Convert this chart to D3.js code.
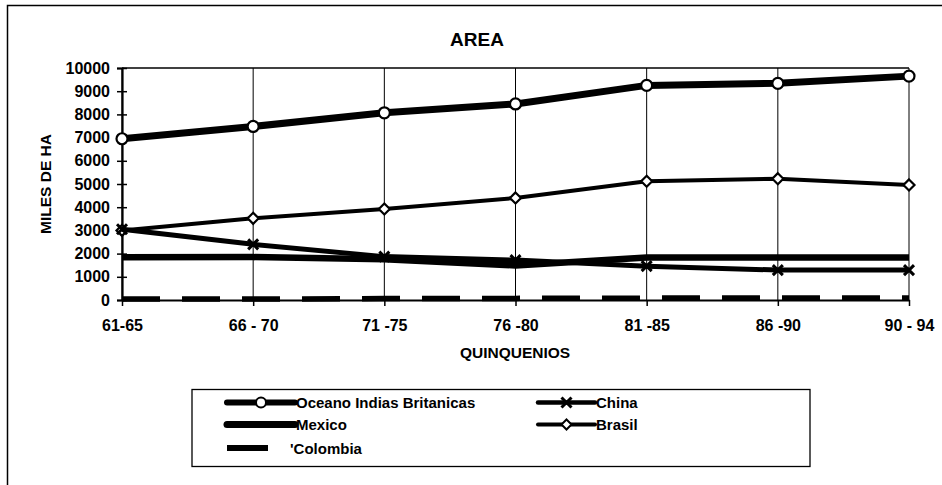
<!DOCTYPE html>
<html>
<head>
<meta charset="utf-8">
<script src="https://cdn.jsdelivr.net/npm/d3@7"></script>
<style>
  html, body { margin: 0; padding: 0; background: #fff; }
  svg { display: block; }
  text { font-family: "Liberation Sans", Arial, sans-serif; font-weight: bold; fill: #000; }
</style>
</head>
<body>
<svg id="chart" width="942" height="485"></svg>
<script>
// ---- data ----
const categories = ["61-65", "66 - 70", "71 -75", "76 -80", "81 -85", "86 -90", "90 - 94"];
const oceano   = [6950, 7480, 8070, 8450, 9250, 9340, 9650];
const china    = [3050, 2400, 1870, 1720, 1460, 1290, 1290];
const mexico   = [1840, 1850, 1760, 1490, 1830, 1830, 1830];
const brasil   = [3000, 3520, 3920, 4400, 5120, 5230, 4960];
const colombia = [40, 40, 60, 70, 80, 90, 90];
const yTicks   = [0, 1000, 2000, 3000, 4000, 5000, 6000, 7000, 8000, 9000, 10000];

const svg = d3.select("#chart");

// outer frame (left and top edges visible)
svg.append("path").attr("d", "M7.5,485 V5.5 H942")
  .attr("fill", "none").attr("stroke", "#000").attr("stroke-width", 1.5);

const x = d3.scalePoint().domain(categories).range([122, 909]).padding(0);
const y = d3.scaleLinear().domain([0, 10000]).range([300, 68]);

const g = svg.append("g");

// vertical gridlines
g.selectAll("line.grid").data(categories).enter().append("line")
  .attr("x1", d => x(d)).attr("x2", d => x(d))
  .attr("y1", y(10000)).attr("y2", y(0))
  .attr("stroke", "#000").attr("stroke-width", 1);

// top border of plot
g.append("line").attr("x1", x(categories[0])).attr("x2", x(categories[6]))
  .attr("y1", y(10000)).attr("y2", y(10000))
  .attr("stroke", "#000").attr("stroke-width", 1.5);

// y axis
const yAxis = d3.axisLeft(y).tickValues(yTicks).tickSize(5).tickPadding(8).tickFormat(d3.format("d"));
const ya = g.append("g").attr("transform", `translate(${x(categories[0])},0)`).call(yAxis);
ya.select(".domain").attr("stroke-width", 2.2);
ya.selectAll(".tick line").attr("x2", -5).attr("x1", 5).attr("stroke-width", 1.5);
ya.selectAll(".tick text").style("font-size", "16px").style("font-family", "Liberation Sans, Arial, sans-serif").style("font-weight", "bold").attr("x", -12);

// x axis
const xAxis = d3.axisBottom(x).tickSize(6).tickPadding(14).tickSizeOuter(0);
const xa = g.append("g").attr("transform", `translate(0,${y(0)})`).call(xAxis);
xa.select(".domain").attr("stroke-width", 2.2);
xa.selectAll(".tick line").attr("stroke-width", 1.5);
xa.selectAll(".tick text").style("font-size", "16px").style("font-family", "Liberation Sans, Arial, sans-serif").style("font-weight", "bold");

// titles
svg.append("text").attr("x", 477).attr("y", 46).attr("text-anchor", "middle")
  .style("font-size", "19px").text("AREA");
svg.append("text").attr("x", 515).attr("y", 358).attr("text-anchor", "middle")
  .style("font-size", "15.5px").text("QUINQUENIOS");
svg.append("text").attr("transform", "translate(51,184) rotate(-90)").attr("text-anchor", "middle")
  .style("font-size", "15.5px").text("MILES DE HA");

const line = d3.line().x((d, i) => x(categories[i])).y(d => y(d));

// Colombia (dashed)
g.append("path").datum(colombia).attr("d", line)
  .attr("fill", "none").attr("stroke", "#000").attr("stroke-width", 5.5)
  .attr("stroke-dasharray", "38,22");

// Mexico
g.append("path").datum(mexico).attr("d", line)
  .attr("fill", "none").attr("stroke", "#000").attr("stroke-width", 6.5).attr("stroke-linejoin", "round");

// Brasil
g.append("path").datum(brasil).attr("d", line)
  .attr("fill", "none").attr("stroke", "#000").attr("stroke-width", 4).attr("stroke-linejoin", "round");
g.selectAll("path.dia").data(brasil).enter().append("path")
  .attr("transform", (d, i) => `translate(${x(categories[i])},${y(d)})`)
  .attr("d", "M0,-5.5 L5.5,0 L0,5.5 L-5.5,0 Z")
  .attr("fill", "#fff").attr("stroke", "#000").attr("stroke-width", 2.2);

// China
g.append("path").datum(china).attr("d", line)
  .attr("fill", "none").attr("stroke", "#000").attr("stroke-width", 5).attr("stroke-linejoin", "round");
g.selectAll("path.cx").data(china).enter().append("path")
  .attr("transform", (d, i) => `translate(${x(categories[i])},${y(d)})`)
  .attr("d", "M-5,-5 L5,5 M-5,5 L5,-5")
  .attr("fill", "none").attr("stroke", "#000").attr("stroke-width", 3);

// Oceano Indias Britanicas
g.append("path").datum(oceano).attr("d", line)
  .attr("fill", "none").attr("stroke", "#000").attr("stroke-width", 7).attr("stroke-linejoin", "round");
g.selectAll("circle.oc").data(oceano).enter().append("circle")
  .attr("cx", (d, i) => x(categories[i])).attr("cy", d => y(d)).attr("r", 5.5)
  .attr("fill", "#fff").attr("stroke", "#000").attr("stroke-width", 2.2);

// ---- legend ----
const lg = svg.append("g");
lg.append("rect").attr("x", 192).attr("y", 389.5).attr("width", 618).attr("height", 77)
  .attr("fill", "none").attr("stroke", "#000").attr("stroke-width", 1.3);

const legendItems = [
  { name: "Oceano Indias Britanicas", x1: 227, x2: 295, tx: 296, cy: 402.5, w: 6, mark: "circle" },
  { name: "China", x1: 538, x2: 595, tx: 596, cy: 402.5, w: 4.5, mark: "x" },
  { name: "Mexico", x1: 227, x2: 295, tx: 296, cy: 424.5, w: 7, mark: null },
  { name: "Brasil", x1: 538, x2: 595, tx: 596, cy: 424.5, w: 4, mark: "diamond" },
  { name: "'Colombia", x1: 227, x2: 268, tx: 290, cy: 448, w: 6, mark: null }
];
legendItems.forEach(it => {
  lg.append("line").attr("x1", it.x1).attr("x2", it.x2).attr("y1", it.cy).attr("y2", it.cy)
    .attr("stroke", "#000").attr("stroke-width", it.w).attr("stroke-linecap", it.name === "'Colombia" ? "butt" : "round");
  const mx = (it.x1 + it.x2) / 2;
  if (it.mark === "circle") {
    lg.append("circle").attr("cx", mx).attr("cy", it.cy).attr("r", 5)
      .attr("fill", "#fff").attr("stroke", "#000").attr("stroke-width", 2);
  } else if (it.mark === "x") {
    lg.append("path").attr("transform", `translate(${mx},${it.cy})`)
      .attr("d", "M-5,-5 L5,5 M-5,5 L5,-5").attr("stroke", "#000").attr("stroke-width", 3);
  } else if (it.mark === "diamond") {
    lg.append("path").attr("transform", `translate(${mx},${it.cy})`)
      .attr("d", "M0,-5 L5,0 L0,5 L-5,0 Z").attr("fill", "#fff").attr("stroke", "#000").attr("stroke-width", 2);
  }
  lg.append("text").attr("x", it.tx).attr("y", it.cy + 5.5)
    .style("font-size", "15px").text(it.name);
});
</script>
</body>
</html>
